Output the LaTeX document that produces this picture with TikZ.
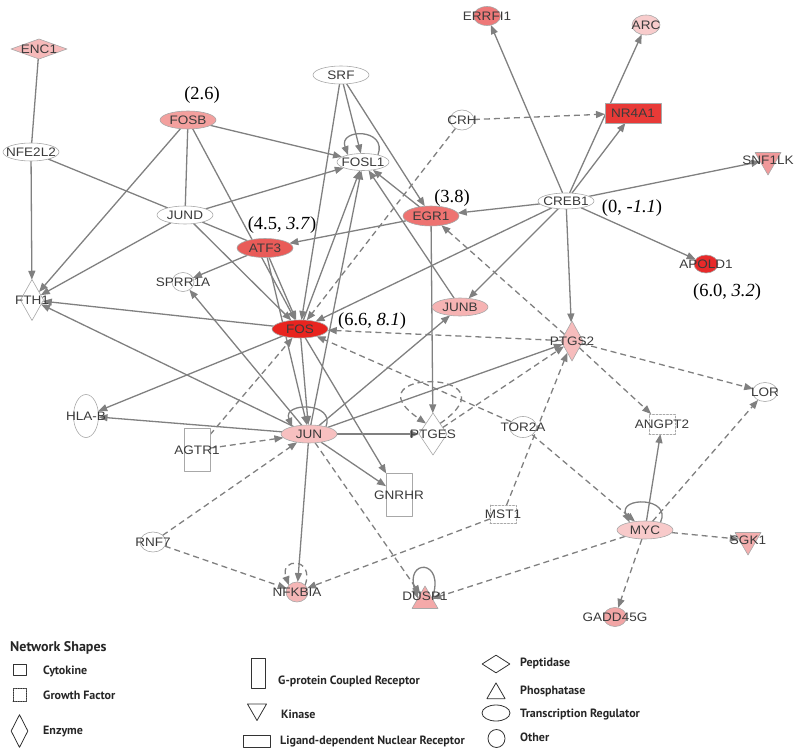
\documentclass[tikz,border=0pt]{standalone}
\usepackage{fontspec}
\setmainfont{Liberation Serif}
\newfontfamily\genefont[FakeStretch=1.1]{Liberation Sans}
\newfontfamily\legendfont{PT Sans}
\usetikzlibrary{arrows.meta,shapes.geometric,backgrounds}

\definecolor{edgegray}{HTML}{808080}
\definecolor{rimgray}{HTML}{A8A8A8}
\definecolor{gtext}{HTML}{3A3A3A}
\definecolor{cFOS}{HTML}{E8241F}
\definecolor{cNRA}{HTML}{E83A37}
\definecolor{cAPOLD}{HTML}{E82A2A}
\definecolor{cATF}{HTML}{E95B58}
\definecolor{cEGR}{HTML}{EE7371}
\definecolor{cERRFI}{HTML}{EE7878}
\definecolor{cFOSB}{HTML}{F3A09E}
\definecolor{cSNF}{HTML}{F0999A}
\definecolor{cGADD}{HTML}{F2A5A5}
\definecolor{cDUSP}{HTML}{F4A9A9}
\definecolor{cSGK}{HTML}{F3AEAE}
\definecolor{cJUNB}{HTML}{F6B3B3}
\definecolor{cNFK}{HTML}{F5B6B6}
\definecolor{cENC}{HTML}{F6BABA}
\definecolor{cPTGS}{HTML}{F6BCBC}
\definecolor{cJUN}{HTML}{F7C0C0}
\definecolor{cMYC}{HTML}{F8CACA}
\definecolor{cARC}{HTML}{F8CCCC}

\tikzset{
  gene/.style={draw=rimgray, fill=white, line width=0.6pt, inner sep=0pt, outer sep=0pt},
  treg/.style={gene, ellipse, minimum width=56pt, minimum height=18pt},
  other/.style={gene, ellipse, minimum width=25pt, minimum height=20pt},
  enzyme/.style={gene, diamond, minimum width=23pt, minimum height=41pt},
  peptidase/.style={gene, diamond, minimum width=56pt, minimum height=20pt},
  kinase/.style={gene, regular polygon, regular polygon sides=3, regular polygon rotate=180, minimum size=30pt},
  phosphatase/.style={gene, regular polygon, regular polygon sides=3, minimum size=30pt},
  gpcr/.style={gene, rectangle, minimum width=26pt, minimum height=43pt},
  ldnr/.style={gene, rectangle, minimum width=56pt, minimum height=20pt},
  growth/.style={gene, rectangle, dash pattern=on 2pt off 1.5pt, minimum width=26pt, minimum height=20pt},
  every label/.style={font=\genefont\fontsize{12.3}{14}\selectfont, text=gtext, inner sep=0pt},
  note/.style={font=\fontsize{18.5}{20}\selectfont, inner sep=0pt},
  link/.style={draw=edgegray, line width=1.3pt},
  act/.style={link, -{Triangle[length=9pt,width=7pt]}},
  ind/.style={act, dash pattern=on 6pt off 4pt},
  lgshape/.style={draw=black!80, line width=0.8pt, inner sep=0pt},
  lgtext/.style={font=\legendfont\bfseries\fontsize{12}{14}\selectfont, text=black!85, anchor=west, inner sep=0pt}
}

\begin{document}
\begin{tikzpicture}[x=1pt,y=-1pt,line cap=round,line join=round]
  \useasboundingbox (0,0) rectangle (800,754);
  % genes
  \node[peptidase, fill=cENC, label=center:ENC1] (enc1) at (39,49) {};
  \node[treg, fill=cFOSB, label=center:FOSB] (fosb) at (188,120) {};
  \node[treg, label=center:NFE2L2] (nfe2l2) at (31,152) {};
  \node[treg, label=center:JUND] (jund) at (185,215) {};
  \node[treg, label=center:SRF] (srf) at (341,75) {};
  \node[treg, minimum width=52pt, minimum height=17pt, label=center:FOSL1] (fosl1) at (363,162) {};
  \node[other, minimum width=24pt, label=center:CRH] (crh) at (462,120) {};
  \node[other, fill=cERRFI, minimum width=27pt, minimum height=19pt, label=center:ERRFI1] (errfi1) at (487,16) {};
  \node[other, fill=cARC, minimum width=28pt, label=center:ARC] (arc) at (646,25) {};
  \node[ldnr, fill=cNRA, label=center:NR4A1] (nr4a1) at (633,113) {};
  \node[kinase, fill=cSNF, label=center:SNF1LK] (snf1lk) at (768,160) {};
  \node[treg, minimum height=16pt, label=center:CREB1] (creb1) at (566,201) {};
  \node[treg, fill=cEGR, minimum height=20pt, label=center:EGR1] (egr1) at (431,216) {};
  \node[treg, fill=cATF, minimum height=19pt, label=center:ATF3] (atf3) at (265,248) {};
  \node[other, minimum width=22pt, minimum height=19pt, label=center:SPRR1A] (sprr1a) at (183,282) {};
  \node[enzyme, label=center:FTH1] (fth1) at (32,300) {};
  \node[treg, fill=cFOS, label=center:FOS] (fos) at (300,329) {};
  \node[treg, fill=cJUNB, label=center:JUNB] (junb) at (460,307) {};
  \node[other, fill=cAPOLD, minimum width=24pt, minimum height=18pt, label=center:APOLD1] (apold1) at (706,264) {};
  \node[enzyme, fill=cPTGS, minimum width=22pt, minimum height=40pt, label=center:PTGS2] (ptgs2) at (572,341) {};
  \node[other, minimum width=25pt, minimum height=43pt, label=center:HLA-B] (hlab) at (86,416) {};
  \node[gpcr, label=center:AGTR1] (agtr1) at (197,450) {};
  \node[treg, fill=cJUN, label=center:JUN] (jun) at (309,434) {};
  \node[enzyme, minimum width=28pt, minimum height=42pt, label=center:PTGES] (ptges) at (433,434) {};
  \node[other, minimum width=27pt, minimum height=21pt, label=center:TOR2A] (tor2a) at (523,427) {};
  \node[growth, label=center:ANGPT2] (angpt2) at (662,424) {};
  \node[other, minimum height=19pt, label=center:LOR] (lor) at (765,392) {};
  \node[gpcr, label=center:GNRHR] (gnrhr) at (399,495) {};
  \node[growth, minimum height=18pt, label=center:MST1] (mst1) at (503,514) {};
  \node[treg, fill=cMYC, label=center:MYC] (myc) at (645,530) {};
  \node[kinase, fill=cSGK, label=center:SGK1] (sgk1) at (748,540) {};
  \node[other, minimum width=26pt, label=center:RNF7] (rnf7) at (153,542) {};
  \node[other, fill=cNFK, minimum width=22pt, label=center:NFKBIA] (nfkbia) at (297,592) {};
  \node[phosphatase, fill=cDUSP, label={[yshift=5pt]center:DUSP1}] (dusp1) at (425,601) {};
  \node[other, fill=cGADD, minimum width=23pt, minimum height=19pt, label=center:GADD45G] (gadd45g) at (615,617) {};
  % fold changes
  \node[note] (v_fosb) at (202,95) {(2.6)};
  \node[note] (v_egr1) at (452,198) {(3.8)};
  \node[note] (v_atf3) at (282,225) {(4.5, \textit{3.7})};
  \node[note] (v_fos) at (372,321) {(6.6, \textit{8.1})};
  \node[note] (v_creb1) at (632,208) {(0, \textit{-1.1})};
  \node[note] (v_apold1) at (727,292) {(6.0, \textit{3.2})};
  % relations
  \begin{scope}[on background layer]
    \draw[link] (enc1) -- (nfe2l2);
    \draw[link] (nfe2l2) -- (jund);
    \draw[link] (fosb) -- (jund);
    \draw[link] (jund) -- (atf3);
    \foreach \a/\b in {nfe2l2/fth1, fosb/fth1, fosb/fosl1, fosb/fos, jund/fosl1, jund/fth1,
        jund/fos, srf/fosl1, srf/egr1, srf/fos, atf3/sprr1a, atf3/jun, atf3/fos, egr1/atf3,
        egr1/fosl1, egr1/ptges, fos/fosl1, jun/fosl1, junb/fosl1, creb1/errfi1, creb1/arc,
        creb1/nr4a1, creb1/snf1lk, creb1/apold1, creb1/egr1, creb1/fos, creb1/junb,
        creb1/ptgs2, fos/fth1, fos/hlab, fos/jun, fos/gnrhr, jun/fth1, jun/hlab, jun/sprr1a,
        jun/junb, jun/ptges, jun/ptgs2, jun/gnrhr, jun/nfkbia, myc/angpt2}
      \draw[act] (\a) -- (\b);
    \foreach \a/\b in {crh/nr4a1, crh/fos, ptgs2/fos, ptgs2/egr1, ptgs2/lor, ptgs2/angpt2,
        ptges/ptgs2, mst1/ptgs2, mst1/nfkbia, agtr1/fos, agtr1/jun, rnf7/jun, rnf7/nfkbia,
        jun/dusp1, myc/dusp1, myc/lor, myc/sgk1, myc/gadd45g, tor2a/fos, tor2a/myc}
      \draw[ind] (\a) -- (\b);
    % self loops
    \draw[act] (fosl1.25) .. controls +(10,-27) and +(-10,-27) .. (fosl1.155);
    \draw[act] (jun.23) .. controls +(10,-25) and +(-10,-25) .. (jun.157);
    \draw[act] (myc.26) .. controls +(12,-26) and +(-12,-26) .. (myc.154);
    \draw[act] (dusp1.20) .. controls +(14,-40) and +(-14,-40) .. (dusp1.160);
    \draw[ind] (nfkbia.40) .. controls +(10,-28) and +(-10,-28) .. (nfkbia.140);
    \draw[ind] (ptges.north east) .. controls +(80,-55) and +(-80,-55) .. (ptges.north west);
  \end{scope}
  % legend
  \node[lgtext, font=\legendfont\bfseries\fontsize{14}{16}\selectfont] (lgtitle) at (10,648) {Network Shapes};
  \node[lgshape, minimum width=13pt, minimum height=11pt] (lgcyto) at (19.5,670) {};
  \node[lgtext] (lgcytot) at (43,671) {Cytokine};
  \node[lgshape, dash pattern=on 1.5pt off 1pt, minimum width=13pt, minimum height=13pt] (lgfact) at (19.5,695) {};
  \node[lgtext] (lgfactt) at (43,695) {Growth Factor};
  \node[lgshape, diamond, minimum width=17pt, minimum height=33pt] (lgenz) at (19.5,731) {};
  \node[lgtext] (lgenzt) at (43,732) {Enzyme};
  \node[lgshape, minimum width=14pt, minimum height=30pt] (lggpcr) at (258,673) {};
  \node[lgtext] (lggpcrt) at (278,681) {G-protein Coupled Receptor};
  \node[lgshape, regular polygon, regular polygon sides=3, regular polygon rotate=180, minimum size=22pt] (lgkin) at (257,709.5) {};
  \node[lgtext] (lgkint) at (281,714) {Kinase};
  \node[lgshape, minimum width=27pt, minimum height=12pt] (lgldnr) at (256.5,741) {};
  \node[lgtext] (lgldnrt) at (280,741) {Ligand-dependent Nuclear Receptor};
  \node[lgshape, diamond, minimum width=28pt, minimum height=18pt] (lgpep) at (496,664) {};
  \node[lgtext] (lgpept) at (520,663) {Peptidase};
  \node[lgshape, regular polygon, regular polygon sides=3, minimum size=21pt] (lgpho) at (496,693.4) {};
  \node[lgtext] (lgphot) at (520,691) {Phosphatase};
  \node[lgshape, ellipse, minimum width=28pt, minimum height=16pt] (lgtreg) at (496,713) {};
  \node[lgtext] (lgtregt) at (520,714) {Transcription Regulator};
  \node[lgshape, ellipse, minimum width=17pt, minimum height=18pt] (lgoth) at (496.5,738.5) {};
  \node[lgtext] (lgotht) at (520,737) {Other};
\end{tikzpicture}
\end{document}
